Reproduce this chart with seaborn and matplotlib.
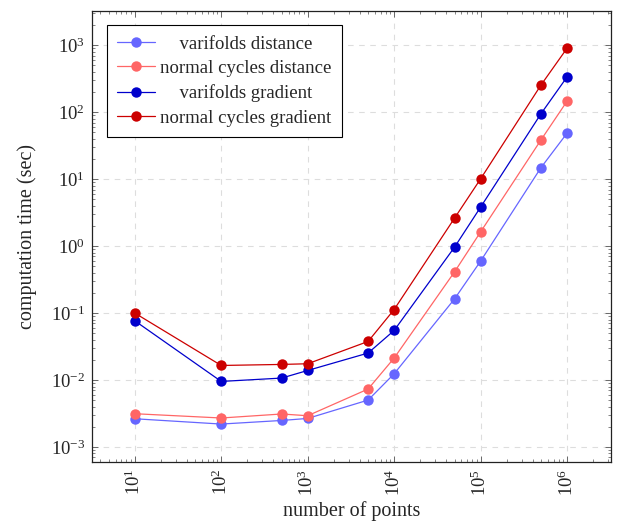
import numpy as np
import pandas as pd
import seaborn as sns
import matplotlib.pyplot as plt
from matplotlib.ticker import LogLocator, NullFormatter

# number of points
n_points = [10, 100, 500, 1000, 5000, 10000, 50000, 100000, 500000, 1000000]

var_dist = [0.00264, 0.0022, 0.00249, 0.00267, 0.00502, 0.0124, 0.163, 0.597, 14.9, 48.6]
nc_dist = [0.00314, 0.00271, 0.00311, 0.00293, 0.00734, 0.0213, 0.413, 1.63, 38.6, 146]
var_grad = [0.0767, 0.00953, 0.0107, 0.0139, 0.0253, 0.055, 0.966, 3.82, 95, 336]
nc_grad = [0.100, 0.0165, 0.0171, 0.0175, 0.0377, 0.113, 2.62, 10.1, 255, 902]

labels = ['varifolds distance', 'normal cycles distance',
          'varifolds gradient', 'normal cycles gradient']
colors = ['#6666ff', '#ff6666', '#0000cc', '#cc0000']

frames = []
for lab, vals in zip(labels, [var_dist, nc_dist, var_grad, nc_grad]):
    frames.append(pd.DataFrame({'n': n_points, 'time': vals, 'method': lab}))
df = pd.concat(frames, ignore_index=True)

sns.set_style('ticks')
plt.rcParams['font.family'] = ['Liberation Serif', 'DejaVu Serif']
plt.rcParams['mathtext.fontset'] = 'stix'

fig = plt.figure(figsize=(6.33, 5.26), dpi=100)
ax = fig.add_axes([0.1453, 0.1222, 0.8195, 0.8575])

sns.lineplot(data=df, x='n', y='time', hue='method', hue_order=labels,
             palette=colors, marker='o', markersize=7.5, markeredgewidth=0,
             linewidth=0.9, ax=ax)

ax.set_xscale('log')
ax.set_yscale('log')
ax.set_xlim(10 ** 0.505, 10 ** 6.505)
ax.set_ylim(10 ** -3.22, 10 ** 3.516)

ax.xaxis.set_major_locator(LogLocator(base=10, numticks=10))
ax.yaxis.set_major_locator(LogLocator(base=10, numticks=10))
ax.xaxis.set_minor_locator(LogLocator(base=10, subs=np.arange(2, 10), numticks=20))
ax.yaxis.set_minor_locator(LogLocator(base=10, subs=np.arange(2, 10), numticks=20))
ax.xaxis.set_minor_formatter(NullFormatter())
ax.yaxis.set_minor_formatter(NullFormatter())

ax.tick_params(which='both', direction='in', top=True, right=True, labelsize=13.5)
ax.tick_params(which='major', length=4, width=0.6, color='#555555', pad=5)
ax.tick_params(which='minor', length=2, width=0.5, color='#555555')
plt.setp(ax.get_xticklabels(), rotation=90)

ax.grid(True, which='major', linestyle=(0, (5, 5)), color='#dddddd', linewidth=0.8)
for s in ax.spines.values():
    s.set_linewidth(0.9)
    s.set_color('#222222')

ax.set_xlabel('number of points', fontsize=14.5, labelpad=4)
ax.set_ylabel('computation time (sec)', fontsize=14.5, labelpad=10)

# centre the legend texts (pgfplots style) by padding with hair spaces
renderer = fig.canvas.get_renderer()
leg_fs = 13.5
widths = []
for lab in labels:
    t = fig.text(0, 0, lab, fontsize=leg_fs)
    widths.append(t.get_window_extent(renderer).width)
    t.remove()
t = fig.text(0, 0, '\u200a' * 10, fontsize=leg_fs)
hair = t.get_window_extent(renderer).width / 10
t.remove()
wmax = max(widths)
padded = ['\u200a' * int(round((wmax - w) / 2 / hair)) + lab for lab, w in zip(labels, widths)]

handles, _ = ax.get_legend_handles_labels()
leg = ax.legend(handles, padded, loc='upper left', bbox_to_anchor=(0.029, 0.968),
                borderaxespad=0, fontsize=leg_fs, frameon=True, fancybox=False,
                framealpha=1, edgecolor='black', handlelength=2.0, borderpad=0.55,
                labelspacing=0.39, handletextpad=0.3)
leg.get_frame().set_linewidth(0.8)

fig.savefig('out.png', dpi=100)
